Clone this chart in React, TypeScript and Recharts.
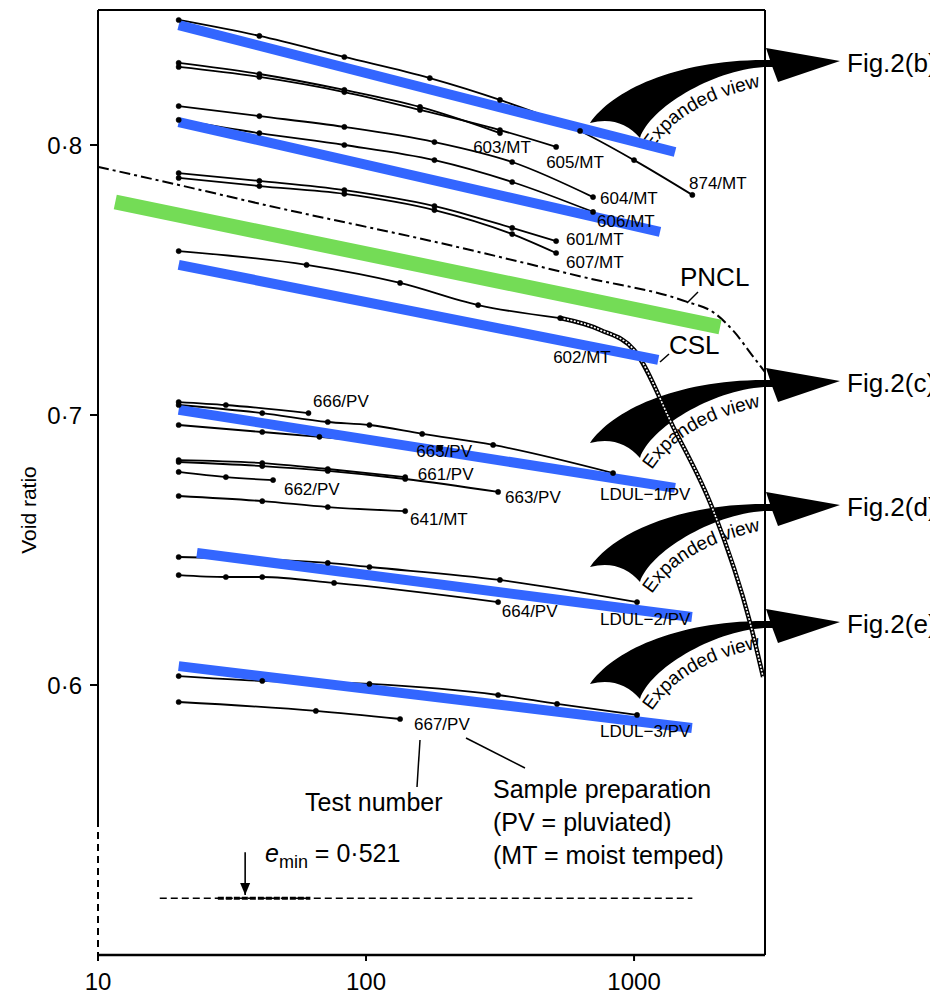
import React from 'react'
import { ComposedChart, Line, XAxis, YAxis, ReferenceLine } from 'recharts'

const FONT = '"Liberation Sans", Arial, Helvetica, sans-serif'

type Pt = [number, number] // [p' (kPa), void ratio]

// isotropic compression tests, moist tamped
const t874: Pt[] = [[20, 0.8463], [40, 0.8404], [83, 0.8326], [173, 0.8248], [316, 0.8167], [629, 0.8052], [1000, 0.7944], [1650, 0.7815]]
const t603: Pt[] = [[20, 0.8304], [40, 0.8263], [83, 0.8204], [159, 0.8141], [316, 0.8044]]
const t605: Pt[] = [[20, 0.8289], [40, 0.8252], [83, 0.8196], [159, 0.813], [316, 0.8055], [512, 0.7993]]
const t604: Pt[] = [[20, 0.8144], [40, 0.8107], [83, 0.8067], [180, 0.8011], [351, 0.7937], [703, 0.7807]]
const t606: Pt[] = [[20, 0.8093], [40, 0.8044], [83, 0.8], [180, 0.7944], [351, 0.7863], [703, 0.7752]]
const t601: Pt[] = [[20, 0.7896], [40, 0.7867], [83, 0.7833], [180, 0.7774], [351, 0.7693], [512, 0.7644]]
const t607: Pt[] = [[20, 0.7878], [40, 0.7848], [83, 0.7819], [180, 0.7759], [351, 0.767], [512, 0.76]]
const t602: Pt[] = [[20, 0.7607], [60, 0.7556], [134, 0.7489], [262, 0.7407], [530, 0.7359]]
const t602Collapse: Pt[] = [[530, 0.7359], [749, 0.7315], [1000, 0.7241], [1400, 0.6956], [1972, 0.6648], [2710, 0.623], [3030, 0.603]]
const t641: Pt[] = [[20, 0.67], [41, 0.6681], [72, 0.6659], [140, 0.6644]]

// pluviated samples
const t666: Pt[] = [[20, 0.7048], [30, 0.7037], [61, 0.7007]]
const ldul1: Pt[] = [[20, 0.7037], [41, 0.7007], [72, 0.6974], [103, 0.6963], [162, 0.693], [298, 0.6889], [835, 0.6785]]
const t665: Pt[] = [[20, 0.6963], [41, 0.6937], [67, 0.6919], [189, 0.6878]]
const t661: Pt[] = [[20, 0.6833], [41, 0.6822], [72, 0.68], [140, 0.677]]
const t663: Pt[] = [[20, 0.6826], [41, 0.6811], [72, 0.6793], [140, 0.6763], [311, 0.6715]]
const t662: Pt[] = [[20, 0.6789], [30, 0.677], [45, 0.6759]]
const ldul2: Pt[] = [[20, 0.6474], [72, 0.6452], [103, 0.6437], [316, 0.6389], [1026, 0.6307]]
const t664: Pt[] = [[20, 0.6407], [30, 0.64], [41, 0.64], [76, 0.6378], [311, 0.6307]]
const ldul3: Pt[] = [[20, 0.6033], [41, 0.6015], [103, 0.6004], [311, 0.5963], [516, 0.593], [1026, 0.5889]]
const t667: Pt[] = [[20, 0.5937], [65, 0.5904], [134, 0.5874]]

// reference lines
const pncl: Pt[] = [[10, 0.7919], [20, 0.7852], [42, 0.7778], [189, 0.7637], [646, 0.7511], [1578, 0.7419], [1972, 0.7381], [2383, 0.7304], [2754, 0.7222], [3080, 0.7159]]
const csl: Pt[] = [[11.6, 0.7789], [2094, 0.7326]]
const fitLines: Pt[][] = [
  [[20, 0.8444], [1422, 0.7974]],
  [[20, 0.8085], [1250, 0.7678]],
  [[20, 0.7556], [1231, 0.7204]],
  [[20, 0.7019], [1422, 0.673]],
  [[23.4, 0.6489], [1644, 0.6252]],
  [[20, 0.607], [1644, 0.5841]],
]
const eMin: Pt[] = [[17, 0.521], [1650, 0.521]]
const eMinDense: Pt[] = [[28, 0.521], [62, 0.521]]
const eMinArrow: Pt[] = [[35.4, 0.5381], [35.4, 0.5222]]

const testCurves = [t874, t603, t605, t604, t606, t601, t607, t602, t641, t666, ldul1, t665, t661, t663, t662, ldul2, t664, ldul3, t667]

// test number tags (anchor = text start, baseline)
const tags = [
  { p: 251, e: 0.797, text: '603/MT' },
  { p: 470, e: 0.7915, text: '605/MT' },
  { p: 1603, e: 0.7837, text: '874/MT' },
  { p: 747, e: 0.7781, text: '604/MT' },
  { p: 728, e: 0.7696, text: '606/MT' },
  { p: 557, e: 0.763, text: '601/MT' },
  { p: 557, e: 0.7544, text: '607/MT' },
  { p: 499, e: 0.7193, text: '602/MT' },
  { p: 63.4, e: 0.703, text: '666/PV' },
  { p: 154, e: 0.6843, text: '665/PV' },
  { p: 156, e: 0.676, text: '661/PV' },
  { p: 49.4, e: 0.6704, text: '662/PV' },
  { p: 330, e: 0.6674, text: '663/PV' },
  { p: 146, e: 0.6593, text: '641/MT' },
  { p: 747, e: 0.6685, text: 'LDUL\u22121/PV' },
  { p: 321, e: 0.6252, text: '664/PV' },
  { p: 747, e: 0.6222, text: 'LDUL\u22122/PV' },
  { p: 151, e: 0.5833, text: '667/PV' },
  { p: 747, e: 0.5807, text: 'LDUL\u22123/PV' },
]

const expandRows = [
  { hy: 63, fig: 'Fig.2(b)' },
  { hy: 383, fig: 'Fig.2(c)' },
  { hy: 507, fig: 'Fig.2(d)' },
  { hy: 624, fig: 'Fig.2(e)' },
]

const rows = (pts: Pt[]) => pts.map(([p, e]) => ({ p, e }))
const fmtE = (v: number) => v.toFixed(1).replace('.', '\u00b7')

const renderTag = (props: any) => {
  const { cx, cy, payload, index } = props
  return (
    <text key={`tag-${index}`} x={cx} y={cy} fontSize={17} fontFamily={FONT} fill="#000">
      {payload.text}
    </text>
  )
}

const renderArrowHead = (props: any) => {
  const { cx, cy, index } = props
  if (index !== 1) return <g key={`ah-${index}`} />
  return <path key={`ah-${index}`} d={`M${cx - 5},${cy - 12} L${cx + 5},${cy - 12} L${cx},${cy} Z`} fill="#000" />
}

function ExpandArrow({ hy, fig, i }: { hy: number; fig: string; i: number }) {
  const wedge = `M590 ${hy + 60} C612 ${hy + 28} 675 ${hy - 3} 765 ${hy - 3} L775 ${hy - 3} L775 ${hy + 4} L765 ${hy + 4} C712 ${hy + 7} 650 ${hy + 45} 640 ${hy + 75} Q620 ${hy + 52} 590 ${hy + 60} Z`
  const head = `M766 ${hy - 15} L840 ${hy - 2} L778 ${hy + 19} L772 ${hy + 3} Z`
  const id = `ev-path-${i}`
  return (
    <g>
      <path d={wedge} fill="#000" />
      <path d={head} fill="#000" />
      <path id={id} d={`M652 ${hy + 87} Q684 ${hy + 37} 770 ${hy + 22}`} fill="none" />
      <text fontSize={19} fontFamily={FONT} fill="#000">
        <textPath href={`#${id}`}>Expanded view</textPath>
      </text>
      <text x={847} y={hy + 9} fontSize={26} fontFamily={FONT} fill="#000">{fig}</text>
    </g>
  )
}

function Annotations() {
  return (
    <svg width={930} height={989} style={{ position: 'absolute', left: 0, top: 0 }}>
      <g transform="translate(-8 -8)" fontFamily={FONT} fill="#000">
        {expandRows.map((r, i) => <ExpandArrow key={r.fig} hy={r.hy} fig={r.fig} i={i} />)}
        <text transform="translate(36 510) rotate(-90)" textAnchor="middle" fontSize={21}>Void ratio</text>
        <text x={680} y={286} fontSize={26}>PNCL</text>
        <line x1={687} y1={303} x2={698} y2={292} stroke="#000" strokeWidth={1.5} />
        <text x={669} y={354} fontSize={26}>CSL</text>
        <line x1={660} y1={362} x2={669} y2={354} stroke="#000" strokeWidth={1.5} />
        <line x1={420} y1={740} x2={417} y2={787} stroke="#000" strokeWidth={1.5} />
        <line x1={466} y1={738} x2={525} y2={768} stroke="#000" strokeWidth={1.5} />
        <text x={305} y={811} fontSize={25}>Test number</text>
        <text x={493} y={798} fontSize={25}>Sample preparation</text>
        <text x={493} y={831} fontSize={25}>(PV = pluviated)</text>
        <text x={493} y={864} fontSize={25}>(MT = moist temped)</text>
        <text x={265} y={862} fontSize={25}>
          <tspan fontStyle="italic">e</tspan>
          <tspan fontSize={18} dy={6}>min</tspan>
          <tspan dy={-6}> = 0·521</tspan>
        </text>
      </g>
    </svg>
  )
}

export default function App() {
  return (
    <div style={{ position: 'relative', width: 930, height: 989 }}>
      <Annotations />
      <div style={{ position: 'absolute', left: 0, top: 0 }}>
        <ComposedChart width={930} height={989} margin={{ top: 2, right: 173, bottom: 8, left: 30 }}>
          <XAxis
            type="number"
            dataKey="p"
            scale="log"
            domain={[10, 3080]}
            allowDataOverflow
            ticks={[10, 100, 1000]}
            height={34}
            tickSize={6}
            tickMargin={12}
            axisLine={{ stroke: '#000', strokeWidth: 2.5 }}
            tickLine={{ stroke: '#000', strokeWidth: 2 }}
            tick={{ fill: '#000', fontSize: 24, fontFamily: FONT }}
          />
          <YAxis
            type="number"
            dataKey="e"
            domain={[0.5, 0.85]}
            allowDataOverflow
            ticks={[0.6, 0.7, 0.8]}
            tickFormatter={fmtE}
            width={60}
            axisLine={false}
            tickSize={8}
            tickMargin={8}
            tickLine={{ stroke: '#000', strokeWidth: 2 }}
            tick={{ fill: '#000', fontSize: 24, fontFamily: FONT }}
          />

          {/* frame */}
          <ReferenceLine y={0.85} stroke="#000" strokeWidth={2} />
          <ReferenceLine x={3080} stroke="#000" strokeWidth={2} />
          <ReferenceLine segment={[{ x: 10, y: 0.85 }, { x: 10, y: 0.55 }]} stroke="#000" strokeWidth={2} />
          <ReferenceLine segment={[{ x: 10, y: 0.55 }, { x: 10, y: 0.5 }]} stroke="#000" strokeWidth={2} strokeDasharray="7 5" />

          {/* e_min */}
          <Line data={rows(eMin)} dataKey="e" type="linear" stroke="#000" strokeWidth={1.6} strokeDasharray="7 4" dot={false} activeDot={false} isAnimationActive={false} />
          <Line data={rows(eMinDense)} dataKey="e" type="linear" stroke="#000" strokeWidth={3} strokeDasharray="6 2" dot={false} activeDot={false} isAnimationActive={false} />
          <Line data={rows(eMinArrow)} dataKey="e" type="linear" stroke="#000" strokeWidth={1.6} dot={renderArrowHead} activeDot={false} isAnimationActive={false} />

          {/* PNCL */}
          <Line data={rows(pncl)} dataKey="e" type="monotone" stroke="#000" strokeWidth={2} strokeDasharray="11 4 3 4" dot={false} activeDot={false} isAnimationActive={false} />

          {/* test paths */}
          {testCurves.map((c, i) => (
            <Line
              key={`test-${i}`}
              data={rows(c)}
              dataKey="e"
              type="monotone"
              stroke="#000"
              strokeWidth={1.8}
              dot={{ r: 2.6, fill: '#000', stroke: '#000', strokeWidth: 0.5 }}
              activeDot={false}
              isAnimationActive={false}
            />
          ))}
          <Line data={rows(t602Collapse)} dataKey="e" type="monotone" stroke="#000" strokeWidth={4.5} dot={false} activeDot={false} isAnimationActive={false} />
          <Line data={rows(t602Collapse)} dataKey="e" type="monotone" stroke="#fff" strokeWidth={1.6} strokeDasharray="2 1.5" dot={false} activeDot={false} isAnimationActive={false} />

          {/* tags */}
          <Line data={tags} dataKey="e" stroke="none" dot={renderTag} activeDot={false} isAnimationActive={false} />

          {/* fitted lines */}
          {fitLines.map((f, i) => (
            <Line key={`fit-${i}`} data={rows(f)} dataKey="e" type="linear" stroke="#3366ff" strokeWidth={10} dot={false} activeDot={false} isAnimationActive={false} />
          ))}
          <Line data={rows(csl)} dataKey="e" type="linear" stroke="#74dc56" strokeWidth={15} dot={false} activeDot={false} isAnimationActive={false} />
        </ComposedChart>
      </div>
    </div>
  )
}
